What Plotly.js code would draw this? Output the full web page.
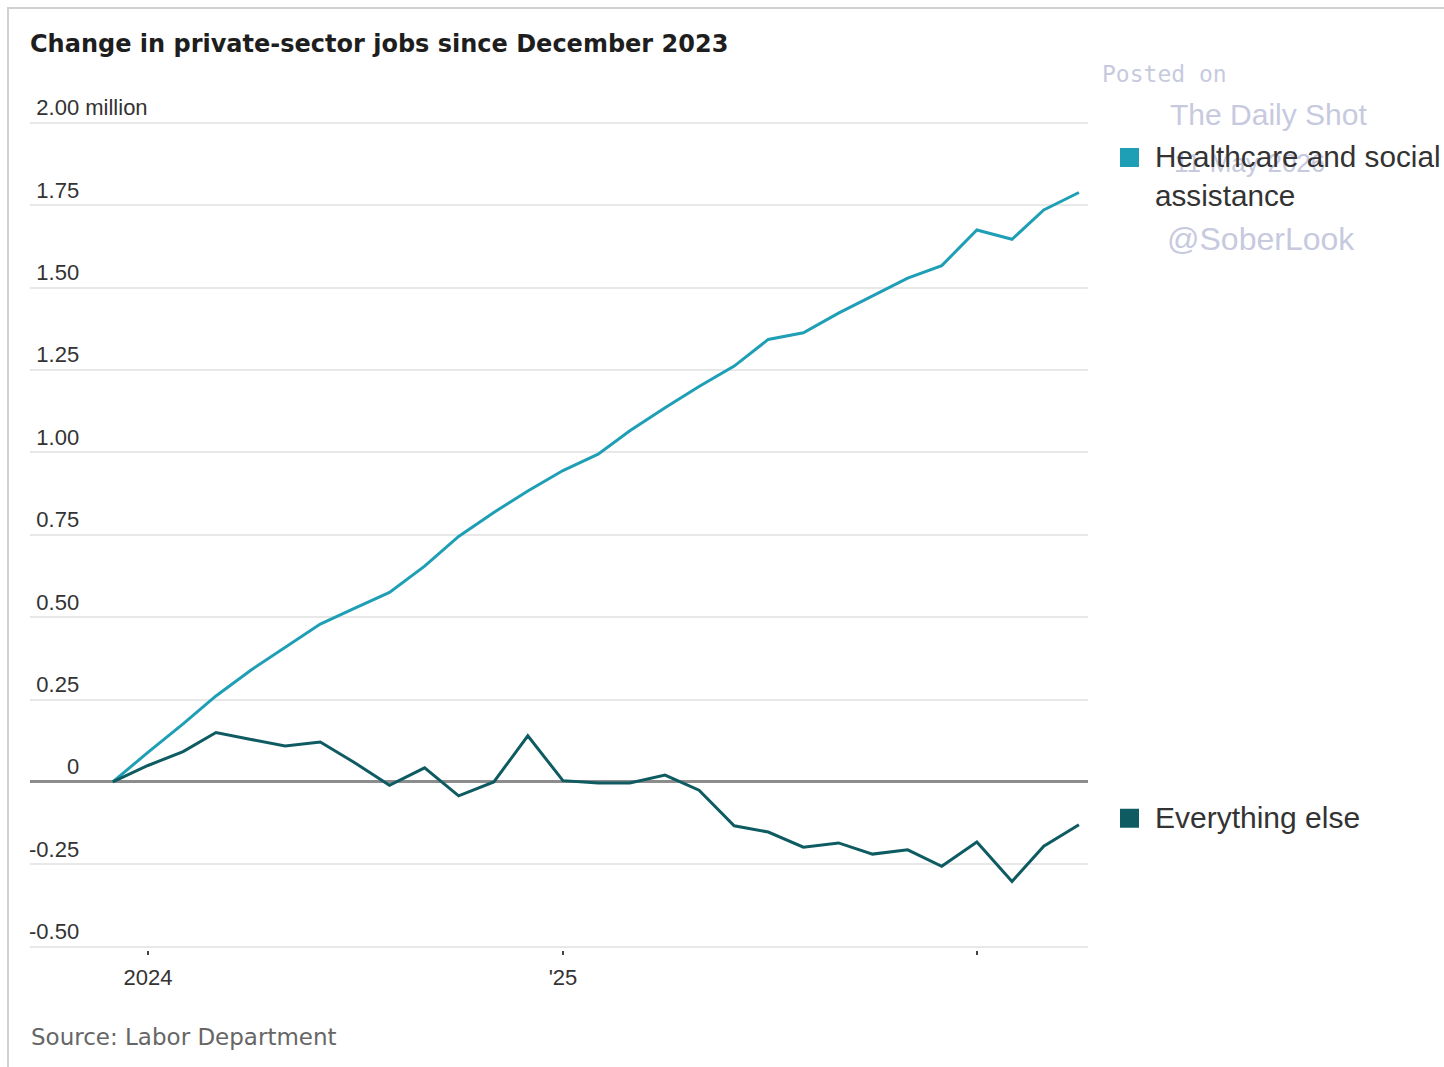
<!DOCTYPE html>
<html>
<head>
<meta charset="utf-8">
<script src="https://cdn.plot.ly/plotly-3.0.1.min.js"></script>
<style>
  html, body { margin: 0; padding: 0; background: #ffffff; }
  #chart { width: 1444px; height: 1067px; position: absolute; left: 0; top: 0; }
  #frame { position: absolute; left: 7px; top: 7px; width: 1437px; height: 1060px;
           border-left: 2px solid #d0d0d0; border-top: 2px solid #d0d0d0; pointer-events: none; }
</style>
</head>
<body>
<div id="chart"></div>
<div id="frame"></div>
<script>
// ---- Data, millions of jobs since Dec 2023 ----
const months = [
  "2023-12-01","2024-01-01","2024-02-01","2024-03-01","2024-04-01","2024-05-01",
  "2024-06-01","2024-07-01","2024-08-01","2024-09-01","2024-10-01","2024-11-01",
  "2024-12-01","2025-01-01","2025-02-01","2025-03-01","2025-04-01","2025-05-01",
  "2025-06-01","2025-07-01","2025-08-01","2025-09-01","2025-10-01","2025-11-01",
  "2025-12-01","2026-01-01","2026-02-01","2026-03-01","2026-04-01"
];
const healthcare = [
  0, 0.090, 0.176, 0.261, 0.340, 0.408, 0.479, 0.527, 0.575, 0.655, 0.745, 0.818,
  0.883, 0.945, 0.995, 1.066, 1.136, 1.200, 1.262, 1.343, 1.363, 1.423, 1.474, 1.529,
  1.567, 1.675, 1.647, 1.736, 1.789
];
const everythingElse = [
  0, 0.050, 0.092, 0.150, 0.129, 0.109, 0.121, 0.059, -0.010, 0.043, -0.042, 0.000,
  0.140, 0.004, -0.003, -0.003, 0.021, -0.025, -0.133, -0.152, -0.198, -0.185, -0.219, -0.206,
  -0.256, -0.182, -0.302, -0.195, -0.130
];
const seriesNames = ["Healthcare and social<br>assistance", "Everything else"];
const yTickVals = [-0.5, -0.25, 0, 0.25, 0.5, 0.75, 1.0, 1.25, 1.5, 1.75, 2.0];
const yTickLabels = ["-0.50", "-0.25", "0", "0.25", "0.50", "0.75", "1.00", "1.25", "1.50", "1.75", "2.00 million"];
const xTickVals = ["2024-01-01", "2025-01-01", "2026-01-01"];
const xTickLabels = ["2024", "'25", ""];
const titleText = "Change in private-sector jobs since December 2023";
const sourceText = "Source: Labor Department";

// ---- Styling ----
const W = 1444, H = 1067;
const L = 30, R = 1088, T = 90, B = 950.3;
const colHealth = "#1f9fb5";
const colElse = "#0e5b62";
const px = x => (x - L) / (R - L);
const py = y => (B - y) / (B - T);

// right-align numeric labels visually (labels are drawn left-aligned inside the plot)
const hid = s => '<span style="color:rgba(0,0,0,0)">' + s + '</span>';
const yTickText = yTickLabels.map(t => {
  if (t.startsWith("-")) return t;
  if (t === "0") return hid("-0.2") + t;
  return hid("-") + t;
});

const traces = [
  { x: months, y: healthcare, type: "scatter", mode: "lines", name: seriesNames[0],
    line: { color: colHealth, width: 3 }, showlegend: false, hoverinfo: "x+y" },
  { x: months, y: everythingElse, type: "scatter", mode: "lines", name: seriesNames[1],
    line: { color: colElse, width: 3 }, showlegend: false, hoverinfo: "x+y" }
];

const wm = "#c7cade";
const layout = {
  width: W, height: H,
  paper_bgcolor: "rgba(0,0,0,0)", plot_bgcolor: "rgba(0,0,0,0)",
  margin: { l: L, r: W - R, t: T, b: H - B, pad: 0 },
  title: { text: titleText, xref: "container", yref: "container",
           x: 30 / W, xanchor: "left", y: 1 - 44 / H, yanchor: "middle",
           font: { family: "DejaVu Sans", size: 24, color: "#1e1e1e", weight: "bold" } },
  xaxis: {
    type: "date", range: ["2023-09-19", "2026-04-09"],
    tickvals: xTickVals, ticktext: xTickLabels,
    ticks: "outside", ticklen: 4, tickwidth: 2, tickcolor: "#444",
    showgrid: false, zeroline: false, showline: false,
    ticklabelstandoff: 4,
    tickfont: { family: "Liberation Sans", size: 22, color: "#333" }
  },
  yaxis: {
    range: [-0.51, 2.1], tickvals: yTickVals, ticktext: yTickText,
    ticklabelposition: "inside top", ticks: "", ticklabelstandoff: -4,
    showgrid: true, gridcolor: "#e8e8e8", gridwidth: 2,
    zeroline: true, zerolinecolor: "#8c8c8c", zerolinewidth: 3,
    showline: false,
    tickfont: { family: "Liberation Sans", size: 22, color: "#333" }
  },
  shapes: [
    { type: "rect", xref: "paper", yref: "paper", x0: px(1120), x1: px(1139), y0: py(167), y1: py(148),
      fillcolor: colHealth, line: { width: 0 } },
    { type: "rect", xref: "paper", yref: "paper", x0: px(1120), x1: px(1139), y0: py(828), y1: py(809),
      fillcolor: colElse, line: { width: 0 } }
  ],
  annotations: [
    // watermark
    { text: "Posted on", xref: "paper", yref: "paper", x: px(1100), y: py(74), xanchor: "left", yanchor: "middle",
      showarrow: false, font: { family: "DejaVu Sans Mono", size: 23, color: wm } },
    { text: "The Daily Shot", xref: "paper", yref: "paper", x: px(1168), y: py(115), xanchor: "left", yanchor: "middle",
      showarrow: false, font: { family: "Liberation Sans", size: 30, color: wm } },
    { text: "11-May-2026", xref: "paper", yref: "paper", x: px(1172), y: py(163), xanchor: "left", yanchor: "middle",
      showarrow: false, font: { family: "Liberation Sans", size: 26, color: wm } },
    { text: "@SoberLook", xref: "paper", yref: "paper", x: px(1165), y: py(239), xanchor: "left", yanchor: "middle",
      showarrow: false, font: { family: "Liberation Sans", size: 32, color: wm } },
    // series labels
    { text: seriesNames[0], xref: "paper", yref: "paper", x: px(1153), y: py(176), xanchor: "left", yanchor: "middle",
      align: "left", showarrow: false, font: { family: "Liberation Sans", size: 29.7, color: "#333" } },
    { text: seriesNames[1], xref: "paper", yref: "paper", x: px(1153), y: py(818), xanchor: "left", yanchor: "middle",
      align: "left", showarrow: false, font: { family: "Liberation Sans", size: 30, color: "#333" } },
    // source
    { text: sourceText, xref: "paper", yref: "paper", x: px(29), y: py(1037), xanchor: "left", yanchor: "middle",
      showarrow: false, font: { family: "DejaVu Sans", size: 23, color: "#666" } }
  ],
  hovermode: "closest"
};

Plotly.newPlot("chart", traces, layout, { displayModeBar: false, staticPlot: true });
</script>
</body>
</html>
